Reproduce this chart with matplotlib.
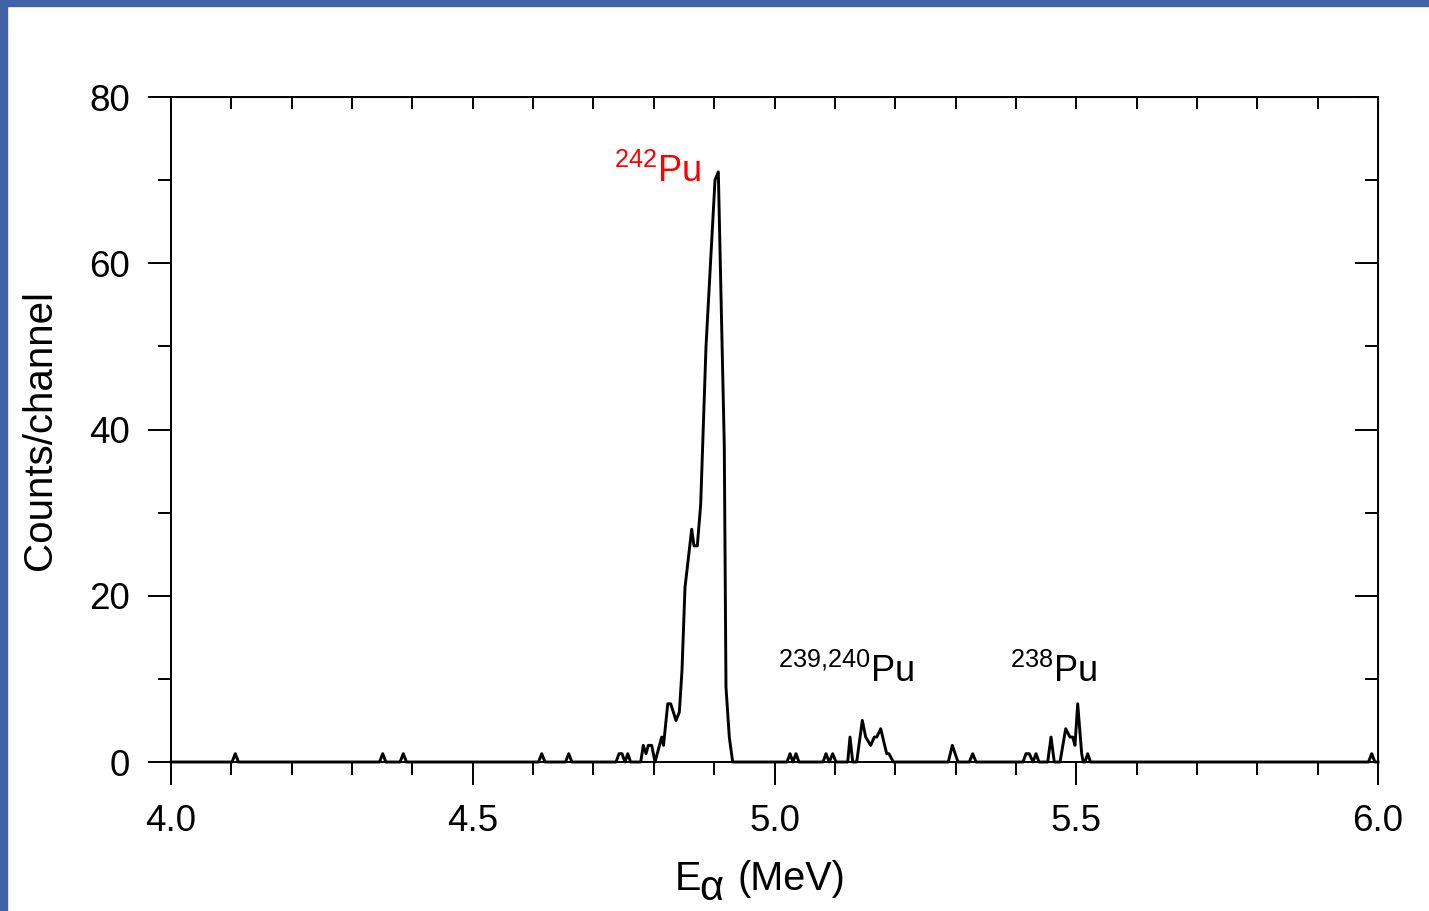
import matplotlib.pyplot as plt
from matplotlib.patches import Rectangle
from matplotlib.ticker import MultipleLocator

plt.rcParams['font.family'] = ['Liberation Sans', 'DejaVu Sans']
plt.rcParams['mathtext.fontset'] = 'custom'
plt.rcParams['mathtext.rm'] = 'Liberation Sans'
plt.rcParams['mathtext.it'] = 'Liberation Sans:italic'
plt.rcParams['mathtext.default'] = 'regular'

# alpha spectrum (polyline vertices: energy in MeV, counts/channel)
energy = [4.0,
          4.1012, 4.1065, 4.1118,
          4.3455, 4.3508, 4.3561,
          4.3796, 4.3849, 4.3902,
          4.6090, 4.6143, 4.6196,
          4.6537, 4.6590, 4.6643,
          4.7374, 4.7424, 4.7473, 4.7523, 4.7568, 4.7617,
          4.7783, 4.7826, 4.7871, 4.7909, 4.7965, 4.8020,
          4.8131, 4.8161, 4.8231, 4.8280, 4.8368, 4.8423, 4.8467, 4.8517,
          4.8628, 4.8666, 4.8721, 4.8777, 4.8865, 4.9014, 4.9069,
          4.9168, 4.9196, 4.9251, 4.9307,
          5.0207, 5.0257, 5.0306, 5.0356, 5.0406,
          5.0804, 5.0853, 5.0908, 5.0964, 5.1019,
          5.1213, 5.1251, 5.1296,
          5.1362, 5.1455, 5.1511, 5.1594, 5.1654, 5.1694, 5.1760,
          5.1859, 5.1897, 5.1969,
          5.2880, 5.2946, 5.3041,
          5.3228, 5.3284, 5.3339,
          5.4118, 5.4167, 5.4222, 5.4283, 5.4333, 5.4383,
          5.4527, 5.4582, 5.4636,
          5.4731, 5.4825, 5.4896, 5.4941, 5.4979, 5.5024, 5.5090, 5.5116,
          5.5144, 5.5190, 5.5236,
          5.9843, 5.9896, 5.9949,
          6.0]
counts = [0,
          0, 1, 0,
          0, 1, 0,
          0, 1, 0,
          0, 1, 0,
          0, 1, 0,
          0, 1, 1, 0, 1, 0,
          0, 2, 1, 2, 2, 0,
          3, 2, 7, 7, 5, 6, 11, 21,
          28, 26, 26, 31, 50, 70, 71,
          38, 9, 3, 0,
          0, 1, 0, 1, 0,
          0, 1, 0, 1, 0,
          0, 3, 0,
          0, 5, 3, 2, 3, 3, 4,
          1, 1, 0,
          0, 2, 0,
          0, 1, 0,
          0, 1, 1, 0, 1, 0,
          0, 3, 0,
          0, 4, 3, 3, 2, 7, 1, 0,
          0, 1, 0,
          0, 1, 0,
          0]

W, H = 1429, 911
fig = plt.figure(figsize=(W / 100, H / 100), dpi=100)
ax = fig.add_axes([171 / W, 1 - 762 / H, (1378 - 171) / W, (762 - 97) / H])

ax.plot(energy, counts, color='black', lw=2.1, clip_on=False, zorder=3)

ax.set_xlim(4.0, 6.0)
ax.set_ylim(0, 80)
ax.xaxis.set_major_locator(MultipleLocator(0.5))
ax.xaxis.set_minor_locator(MultipleLocator(0.1))
ax.yaxis.set_major_locator(MultipleLocator(20))
ax.yaxis.set_minor_locator(MultipleLocator(10))
ax.xaxis.set_major_formatter(plt.FormatStrFormatter('%.1f'))

for s in ax.spines.values():
    s.set_linewidth(1.4)

ax.tick_params(which='major', direction='out', length=16.5, width=1.4,
               labelsize=26.5, pad=14)
ax.tick_params(which='minor', direction='out', length=9.4, width=1.4)
ax.tick_params(axis='y', which='major', pad=13)

# inward ticks on top and right
top = ax.secondary_xaxis('top')
top.xaxis.set_major_locator(MultipleLocator(0.1))
top.tick_params(direction='in', length=8.6, width=1.4, labeltop=False)
right = ax.secondary_yaxis('right')
right.yaxis.set_major_locator(MultipleLocator(20))
right.yaxis.set_minor_locator(MultipleLocator(10))
right.tick_params(which='major', direction='in', length=16.5, width=1.4, labelright=False)
right.tick_params(which='minor', direction='in', length=9.4, width=1.4)

# x label built from pieces so the alpha subscript can be large, as in the original
fig.text(675 / W, 1 - 890 / H, 'E', fontsize=28.5, va='baseline', ha='left')
fig.text(699 / W, 1 - 900 / H, '\u03b1', fontsize=30, va='baseline', ha='left')
fig.text(738 / W, 1 - 890 / H, '(MeV)', fontsize=28.5, va='baseline', ha='left')
ax.set_ylabel('Counts/channel', fontsize=29, labelpad=22)

ax.text(4.807, 69.8, r'$^{242}$Pu', color='red', fontsize=26, ha='center', va='baseline')
ax.text(5.119, 9.6, r'$^{239{,}240}$Pu', color='black', fontsize=26, ha='center', va='baseline')
ax.text(5.462, 9.6, r'$^{238}$Pu', color='black', fontsize=26, ha='center', va='baseline')

# slide frame (blue strips on top and left)
fig.patches.append(Rectangle((0, 1 - 6 / H), 1, 6 / H, transform=fig.transFigure,
                             color='#4263a6', zorder=10))
fig.patches.append(Rectangle((0, 0), 7 / W, 1, transform=fig.transFigure,
                             color='#4263a6', zorder=10))

fig.savefig('out.png', dpi=100)
